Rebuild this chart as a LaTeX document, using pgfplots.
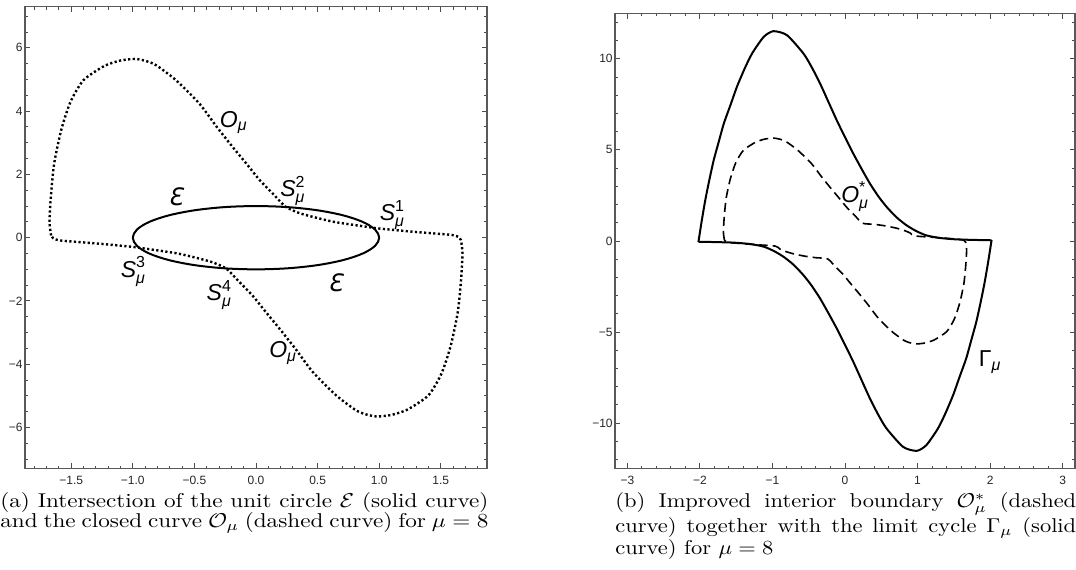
\documentclass[border=0pt]{standalone}
\usepackage{fontspec}
\usepackage{graphicx}
\usepackage{pgfplots}
\pgfplotsset{compat=1.18}
\newfontfamily\arial{Liberation Sans}
\newfontfamily\dejavu{DejaVu Sans}

% Mathematica-like framed axes
\pgfplotsset{
  mma/.style={
    scale only axis,
    axis line style={black!65, line width=0.6pt},
    every tick/.style={black!70, line width=0.5pt},
    major tick length=2.7pt, minor tick length=1.5pt,
    tick align=inside,
    ticklabel style={font=\arial\fontsize{6}{6}\selectfont, text=black!85, inner sep=1pt},
    xticklabel style={yshift=-2.5pt},
    clip=false,
  },
}
\newcommand{\lab}[1]{\arial\fontsize{11.5}{12}\selectfont #1}
\newcommand{\Smu}[1]{$\mbox{\itshape S}^{\mbox{\fontsize{8}{8}\selectfont #1}}_{\mbox{\fontsize{8}{8}\selectfont\itshape μ}}$}
\newcommand{\Omu}{$\mbox{\itshape O}_{\mbox{\fontsize{8}{8}\selectfont\itshape μ}}$}
\newcommand{\eps}{\dejavu\itshape\fontsize{12}{12}\selectfont Ɛ}

\begin{document}
\begin{tikzpicture}
\useasboundingbox (0pt,0pt) rectangle (538pt,-284.5pt);

% (a) unit circle and O_mu
\begin{axis}[mma,
  at={(12.5pt,-234.35pt)}, anchor=south west,
  width=231pt, height=231pt,
  xmin=-1.875, xmax=1.875, ymin=-7.3, ymax=7.3,
  xtick={-1.5,-1,-0.5,0,0.5,1,1.5},
  xticklabels={−1.5,−1.0,−0.5,0.0,0.5,1.0,1.5},
  minor xtick={-1.8,-1.7,...,1.85},
  ytick={-6,-4,-2,0,2,4,6},
  yticklabels={−6,−4,−2,0,2,4,6},
  minor ytick={-7,-6.5,...,7.1},
]
\addplot[black, line width=1pt, smooth cycle, tension=0.55] coordinates {
(1,0) (0.966,0.259) (0.866,0.5) (0.707,0.707) (0.5,0.866) (0.259,0.966)
(0,1) (-0.259,0.966) (-0.5,0.866) (-0.707,0.707) (-0.866,0.5) (-0.966,0.259)
(-1,0) (-0.966,-0.259) (-0.866,-0.5) (-0.707,-0.707) (-0.5,-0.866) (-0.259,-0.966)
(0,-1) (0.259,-0.966) (0.5,-0.866) (0.707,-0.707) (0.866,-0.5) (0.966,-0.259)
};
\addplot[black, line width=1.2pt, dash pattern=on 1.1pt off 1.2pt, smooth, tension=0.4] coordinates {
(-1.663,0.07) (-1.676,0.49) (-1.665,1.3) (-1.638,2.35) (-1.58,3.42) (-1.505,4.3)
(-1.40,4.98) (-1.23,5.43) (-1.10,5.60) (-0.98,5.65) (-0.89,5.58) (-0.81,5.45)
(-0.65,4.98) (-0.46,4.24) (-0.32,3.51) (-0.19,2.87) (-0.08,2.35) (0.03,1.82)
(0.135,1.40) (0.24,0.98) (0.35,0.78) (0.46,0.66) (0.62,0.51) (0.73,0.44)
(0.89,0.35) (1.00,0.29) (1.27,0.19) (1.43,0.14) (1.594,0.085) (1.645,0.02)
(1.663,-0.07) (1.676,-0.49) (1.665,-1.3) (1.638,-2.35) (1.58,-3.42) (1.505,-4.3)
(1.40,-4.98) (1.23,-5.43) (1.10,-5.60) (0.98,-5.65) (0.89,-5.58) (0.81,-5.45)
(0.65,-4.98) (0.46,-4.24) (0.32,-3.51) (0.19,-2.87) (0.08,-2.35) (-0.03,-1.82)
(-0.135,-1.40) (-0.24,-0.98) (-0.35,-0.78) (-0.46,-0.66) (-0.62,-0.51) (-0.73,-0.44)
(-0.89,-0.35) (-1.00,-0.29) (-1.27,-0.19) (-1.43,-0.14) (-1.594,-0.085) (-1.645,-0.02)
(-1.663,0.07)
};
\node at (axis cs:-0.18,3.64) {\lab{\Omu}};
\node at (axis cs:0.22,-3.65) {\lab{\Omu}};
\node at (axis cs:-0.654,1.28) {\eps};
\node at (axis cs:0.643,-1.42) {\eps};
\node at (axis cs:1.108,0.72) {\lab{\Smu{1}}};
\node at (axis cs:0.30,1.48) {\lab{\Smu{2}}};
\node at (axis cs:-0.995,-1.07) {\lab{\Smu{3}}};
\node at (axis cs:-0.298,-1.81) {\lab{\Smu{4}}};
\end{axis}

% (b) improved boundary and limit cycle
\begin{axis}[mma,
  at={(307.5pt,-234.35pt)}, anchor=south west,
  width=230pt, height=227.7pt,
  xmin=-3.17, xmax=3.17, ymin=-12.5, ymax=12.5,
  xtick={-3,-2,-1,0,1,2,3},
  xticklabels={−3,−2,−1,0,1,2,3},
  minor xtick={-3,-2.8,...,3.05},
  ytick={-10,-5,0,5,10},
  yticklabels={−10,−5,0,5,10},
  minor ytick={-12,-11,...,12},
]
\addplot[black, line width=1pt, smooth, tension=0.4] coordinates {
(-2.02,-0.05) (-1.975,1.1) (-1.926,2.24) (-1.87,3.35) (-1.81,4.43) (-1.74,5.45)
(-1.67,6.45) (-1.58,7.45) (-1.49,8.46) (-1.385,9.45) (-1.28,10.30) (-1.12,11.21)
(-0.986,11.52) (-0.80,11.30) (-0.574,10.30) (-0.46,9.55) (-0.344,8.65) (-0.23,7.65)
(-0.114,6.63) (0.0,5.7) (0.114,4.80) (0.23,3.95) (0.344,3.15) (0.46,2.45)
(0.574,1.87) (0.71,1.30) (0.849,0.86) (0.98,0.55) (1.12,0.31) (1.30,0.17)
(1.53,0.09) (1.78,0.06) (2.02,0.04)
};
\addplot[black, line width=1pt, smooth, tension=0.4] coordinates {
(2.02,0.05) (1.975,-1.1) (1.926,-2.24) (1.87,-3.35) (1.81,-4.43) (1.74,-5.45)
(1.67,-6.45) (1.58,-7.45) (1.49,-8.46) (1.385,-9.45) (1.28,-10.30) (1.12,-11.21)
(0.986,-11.52) (0.80,-11.30) (0.574,-10.30) (0.46,-9.55) (0.344,-8.65) (0.23,-7.65)
(0.114,-6.63) (0.0,-5.7) (-0.114,-4.80) (-0.23,-3.95) (-0.344,-3.15) (-0.46,-2.45)
(-0.574,-1.87) (-0.71,-1.30) (-0.849,-0.86) (-0.98,-0.55) (-1.12,-0.31) (-1.30,-0.17)
(-1.53,-0.09) (-1.78,-0.06) (-2.02,-0.04)
};
\addplot[black, line width=0.8pt, dash pattern=on 4.5pt off 2.5pt, smooth, tension=0.4] coordinates {
(-1.663,0.07) (-1.676,0.49) (-1.665,1.3) (-1.638,2.35) (-1.58,3.42) (-1.505,4.3)
(-1.40,4.98) (-1.23,5.43) (-1.10,5.60) (-0.98,5.65) (-0.89,5.58) (-0.81,5.45)
(-0.65,4.98) (-0.46,4.24) (-0.32,3.51) (-0.19,2.87) (-0.08,2.35) (0.03,1.82)
(0.135,1.40) (0.24,0.98) (0.40,0.917) (0.55,0.835) (0.70,0.714) (0.82,0.572)
(0.90,0.436) (0.96,0.28) (1.27,0.19) (1.43,0.14) (1.594,0.085) (1.645,0.02)
(1.663,-0.07) (1.676,-0.49) (1.665,-1.3) (1.638,-2.35) (1.58,-3.42) (1.505,-4.3)
(1.40,-4.98) (1.23,-5.43) (1.10,-5.60) (0.98,-5.65) (0.89,-5.58) (0.81,-5.45)
(0.65,-4.98) (0.46,-4.24) (0.32,-3.51) (0.19,-2.87) (0.08,-2.35) (-0.03,-1.82)
(-0.135,-1.40) (-0.24,-0.98) (-0.40,-0.917) (-0.55,-0.835) (-0.70,-0.714) (-0.82,-0.572)
(-0.90,-0.436) (-0.96,-0.28) (-1.27,-0.19) (-1.43,-0.14) (-1.594,-0.085) (-1.645,-0.02)
(-1.663,0.07)
};
\node at (axis cs:0.14,2.45) {\lab{$\mbox{\itshape O}^{\mbox{\fontsize{8}{8}\selectfont *}}_{\mbox{\fontsize{8}{8}\selectfont\itshape μ}}$}};
\node at (axis cs:2.0,-6.65) {\lab{$\mbox{Γ}_{\mbox{\fontsize{8}{8}\selectfont\itshape μ}}$}};
\end{axis}

\node[anchor=north west, inner sep=0pt] at (0pt,-246pt)
  {\scalebox{1.158}[1]{\parbox[t]{210.7pt}{\fontsize{10}{10.25}\selectfont
  (a) Intersection of the unit circle $\mathcal{E}$ (solid curve)\linebreak
  and the closed curve $\mathcal{O}_\mu$ (dashed curve) for $\mu = 8$}}};
\node[anchor=north west, inner sep=0pt] at (307.5pt,-246pt)
  {\scalebox{1.124}[1]{\parbox[t]{205pt}{\fontsize{10}{10.25}\selectfont
  (b) Improved interior boundary $\mathcal{O}^*_\mu$ (dashed\linebreak
  curve) together with the limit cycle $\Gamma_\mu$ (solid\linebreak
  curve) for $\mu = 8$}}};
\end{tikzpicture}
\end{document}
